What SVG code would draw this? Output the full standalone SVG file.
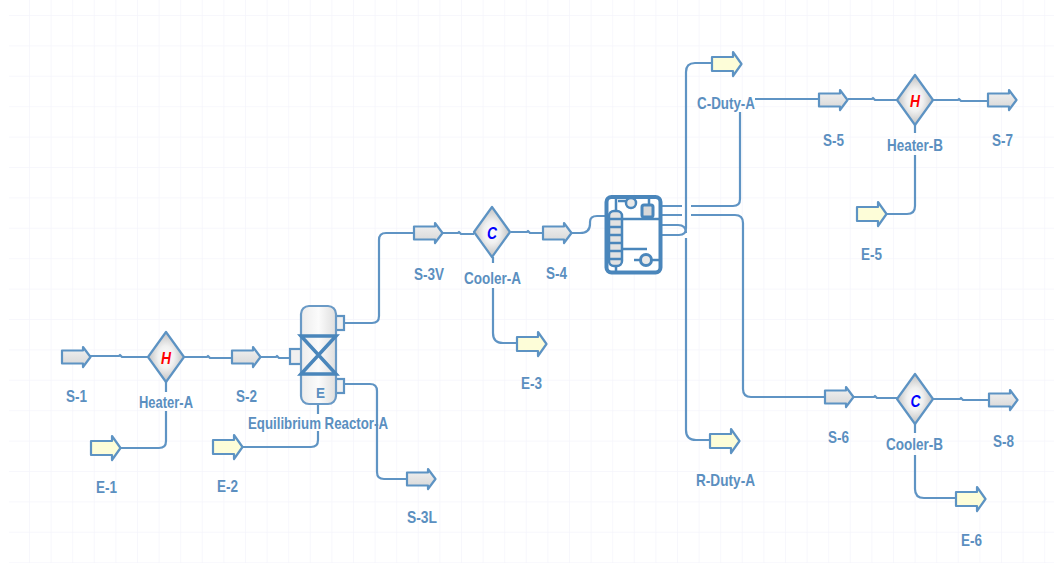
<svg xmlns="http://www.w3.org/2000/svg" width="1054" height="563" viewBox="0 0 1054 563">
<style>
.c{fill:none;stroke:#5f94c4;stroke-width:2.200;stroke-linejoin:round}
.t{font-family:"Liberation Sans",Arial,sans-serif;font-size:17px;font-weight:700;fill:#5b8fc0;text-anchor:start}
.o{stroke:#5d93c3;stroke-width:2.200;stroke-linejoin:round}
.p{fill:#f0f0f0;stroke:#5d93c3;stroke-width:2.200}
.k{fill:none;stroke:#4a86bb;stroke-width:2.500}
.l{font-family:"Liberation Sans",Arial,sans-serif;font-size:17px;font-weight:700;font-style:italic;text-anchor:middle}
</style>
<defs>
<pattern id="grid" width="21.6" height="30.4" patternUnits="userSpaceOnUse" x="7.400" y="15">
<path d="M0 0V30.400M0 0H21.600" fill="none" stroke="#f5f5fb" stroke-width="1.500"/>
</pattern>
<linearGradient id="g" x1="0" y1="0" x2="0" y2="1"><stop offset="0" stop-color="#f2f2f2"/><stop offset="1" stop-color="#d6d6d6"/></linearGradient>
<radialGradient id="d" cx=".5" cy=".5" r=".5"><stop offset="0" stop-color="#fff"/><stop offset=".45" stop-color="#f0f0f0"/><stop offset="1" stop-color="#c0c0c0"/></radialGradient>
<linearGradient id="v" x1="0" y1="0" x2="1" y2="0"><stop offset="0" stop-color="#ececec"/><stop offset=".5" stop-color="#fbfbfb"/><stop offset="1" stop-color="#dedede"/></linearGradient>
<path id="s" class="o" fill="url(#g)" d="M0-6.500H21V-10L28.500 0 21 10V6.500H0Z"/>
<path id="e" class="o" fill="#fdfdd8" d="M0-7H21V-12L29.500 0 21 12V7H0Z"/>
<path id="dia" class="o" fill="url(#d)" d="M0-25 18 0 0 25-18 0Z"/>
</defs>
<rect width="1054" height="563" fill="#fff"/>
<rect x="9" y="0" width="1045" height="563" fill="url(#grid)"/>
<g id="connectors" class="c">
<path d="M90 356H119l1-1 2 2H148"/>
<path d="M184 357H207l1-1 2 2H232"/>
<path d="M166 382V392M166 411V441Q166 448 159 448H120"/>
<path d="M242 447H311Q318 447 318 440V431M318 414V405"/>
<path d="M260 357H276l1-1 2 2H290"/>
<path d="M345 323H372Q379 323 379 316V240Q379 233 386 233H414"/>
<path d="M345 384H370Q377 384 377 391V472Q377 479 384 479H407"/>
<path d="M443 233H458l1-1 2 2H474"/>
<path d="M511 232H527l1-1 2 2H543"/>
<path d="M493 257V263M493 288V333Q493 343 503 343H517"/>
<path d="M572 233H580Q590 233 590 224V222Q590 216 597 216H606"/>
<path d="M661 235H679Q686 235 686 228V72Q686 63 695 63H712"/>
<path d="M661 225H678Q686 225 686 233M686 238V430Q686 440 696 440H710"/>
<path d="M661 206H682M691 206H733Q740 206 740 199V112"/>
<path d="M661 215H682M691 215H735Q743 215 743 223V389Q743 397 751 397H825"/>
<path d="M755 99H818"/>
<path d="M848 99H872l1-1 2 2H897"/>
<path d="M933 100H958l1-1 2 2H988"/>
<path d="M915 125V133M915 155V206Q915 214 907 214H886"/>
<path d="M854 397H874l1-1 2 2H897"/>
<path d="M933 399H960l1-1 2 2H989"/>
<path d="M915 424V433M915 455V489Q915 498 924 498H956"/>
</g>
<g id="S-1"><use href="#s" x="62" y="357"/><text class="t" x="66" y="402" textLength="21" lengthAdjust="spacingAndGlyphs">S-1</text></g>
<g id="Heater-A"><use href="#dia" x="166" y="357"/><text class="l" x="166" y="364" fill="#f00" textLength="10" lengthAdjust="spacingAndGlyphs">H</text><text class="t" x="139" y="408" textLength="54" lengthAdjust="spacingAndGlyphs">Heater-A</text></g>
<g id="S-2"><use href="#s" x="232" y="357"/><text class="t" x="236" y="402" textLength="21" lengthAdjust="spacingAndGlyphs">S-2</text></g>
<g id="E-1"><use href="#e" x="91" y="448"/><text class="t" x="96" y="493" textLength="21" lengthAdjust="spacingAndGlyphs">E-1</text></g>
<g id="E-2"><use href="#e" x="213" y="447"/><text class="t" x="217" y="492" textLength="21" lengthAdjust="spacingAndGlyphs">E-2</text></g>
<g id="Equilibrium-Reactor-A">
<rect class="p" x="290" y="349" width="12" height="15"/>
<rect class="p" x="335" y="316" width="9" height="14"/>
<rect class="p" x="335" y="379" width="9" height="14"/>
<rect x="301" y="306" width="35" height="98" rx="8" fill="url(#v)" stroke="#6a9ac6" stroke-width="2.200"/>
<path d="M301 336H336L301 374H336Z" fill="none" stroke="#4a86bb" stroke-width="3.500"/>
<text class="t" x="316" y="398" textLength="9" lengthAdjust="spacingAndGlyphs" style="font-size:14px">E</text>
<text class="t" x="248" y="429" textLength="140" lengthAdjust="spacingAndGlyphs">Equilibrium Reactor-A</text></g>
<g id="S-3V"><use href="#s" x="414" y="233"/><text class="t" x="414" y="280" textLength="30" lengthAdjust="spacingAndGlyphs">S-3V</text></g>
<g id="S-3L"><use href="#s" x="407" y="479"/><text class="t" x="407" y="523" textLength="30" lengthAdjust="spacingAndGlyphs">S-3L</text></g>
<g id="Cooler-A"><use href="#dia" x="492" y="232"/><text class="l" x="492" y="239" fill="#00f" textLength="10" lengthAdjust="spacingAndGlyphs">C</text><text class="t" x="464" y="284" textLength="57" lengthAdjust="spacingAndGlyphs">Cooler-A</text></g>
<g id="S-4"><use href="#s" x="543" y="233"/><text class="t" x="546" y="279" textLength="21" lengthAdjust="spacingAndGlyphs">S-4</text></g>
<g id="E-3"><use href="#e" x="517" y="344"/><text class="t" x="521" y="389" textLength="21" lengthAdjust="spacingAndGlyphs">E-3</text></g>
<g id="Column">
<rect x="606.500" y="197" width="54" height="75.500" rx="5" fill="#fff" stroke="#4a86bb" stroke-width="4"/>
<path class="k" d="M622 219H660M623 249H647M616 197V211M616 266V272M618 201H631M649 198V205M634 260H660"/>
<rect x="609" y="211" width="13" height="55" rx="5" fill="#e2e2e2" stroke="#4a86bb" stroke-width="2.500"/>
<path class="k" d="M609 219H622M609 227H622M609 235H622M609 243H622M609 251H622M609 259H622"/>
<rect x="642" y="205" width="11" height="12" rx="2" fill="#d9d9d9" stroke="#4a86bb" stroke-width="3"/>
<circle cx="631" cy="203" r="5" fill="#e8e8e8" stroke="#4a86bb" stroke-width="2.500"/>
<circle cx="646" cy="260" r="5.500" fill="#e8e8e8" stroke="#4a86bb" stroke-width="3"/>
</g>
<g id="C-Duty-A"><use href="#e" x="712" y="64"/><text class="t" x="697" y="109" textLength="58" lengthAdjust="spacingAndGlyphs">C-Duty-A</text></g>
<g id="R-Duty-A"><use href="#e" x="710" y="441"/><text class="t" x="696" y="486" textLength="59" lengthAdjust="spacingAndGlyphs">R-Duty-A</text></g>
<g id="S-5"><use href="#s" x="819" y="100"/><text class="t" x="823" y="146" textLength="21" lengthAdjust="spacingAndGlyphs">S-5</text></g>
<g id="Heater-B"><use href="#dia" x="915" y="100"/><text class="l" x="915" y="107" fill="#f00" textLength="10" lengthAdjust="spacingAndGlyphs">H</text><text class="t" x="887" y="151" textLength="56" lengthAdjust="spacingAndGlyphs">Heater-B</text></g>
<g id="S-7"><use href="#s" x="988" y="100"/><text class="t" x="992" y="146" textLength="21" lengthAdjust="spacingAndGlyphs">S-7</text></g>
<g id="E-5"><use href="#e" x="857" y="214"/><text class="t" x="861" y="260" textLength="21" lengthAdjust="spacingAndGlyphs">E-5</text></g>
<g id="S-6"><use href="#s" x="825" y="397"/><text class="t" x="828" y="443" textLength="21" lengthAdjust="spacingAndGlyphs">S-6</text></g>
<g id="Cooler-B"><use href="#dia" x="915" y="399"/><text class="l" x="915.500" y="407" fill="#00f" textLength="10" lengthAdjust="spacingAndGlyphs">C</text><text class="t" x="886" y="450" textLength="57" lengthAdjust="spacingAndGlyphs">Cooler-B</text></g>
<g id="S-8"><use href="#s" x="989" y="400"/><text class="t" x="993" y="447" textLength="21" lengthAdjust="spacingAndGlyphs">S-8</text></g>
<g id="E-6"><use href="#e" x="956" y="499"/><text class="t" x="961" y="546" textLength="21" lengthAdjust="spacingAndGlyphs">E-6</text></g>
</svg>
